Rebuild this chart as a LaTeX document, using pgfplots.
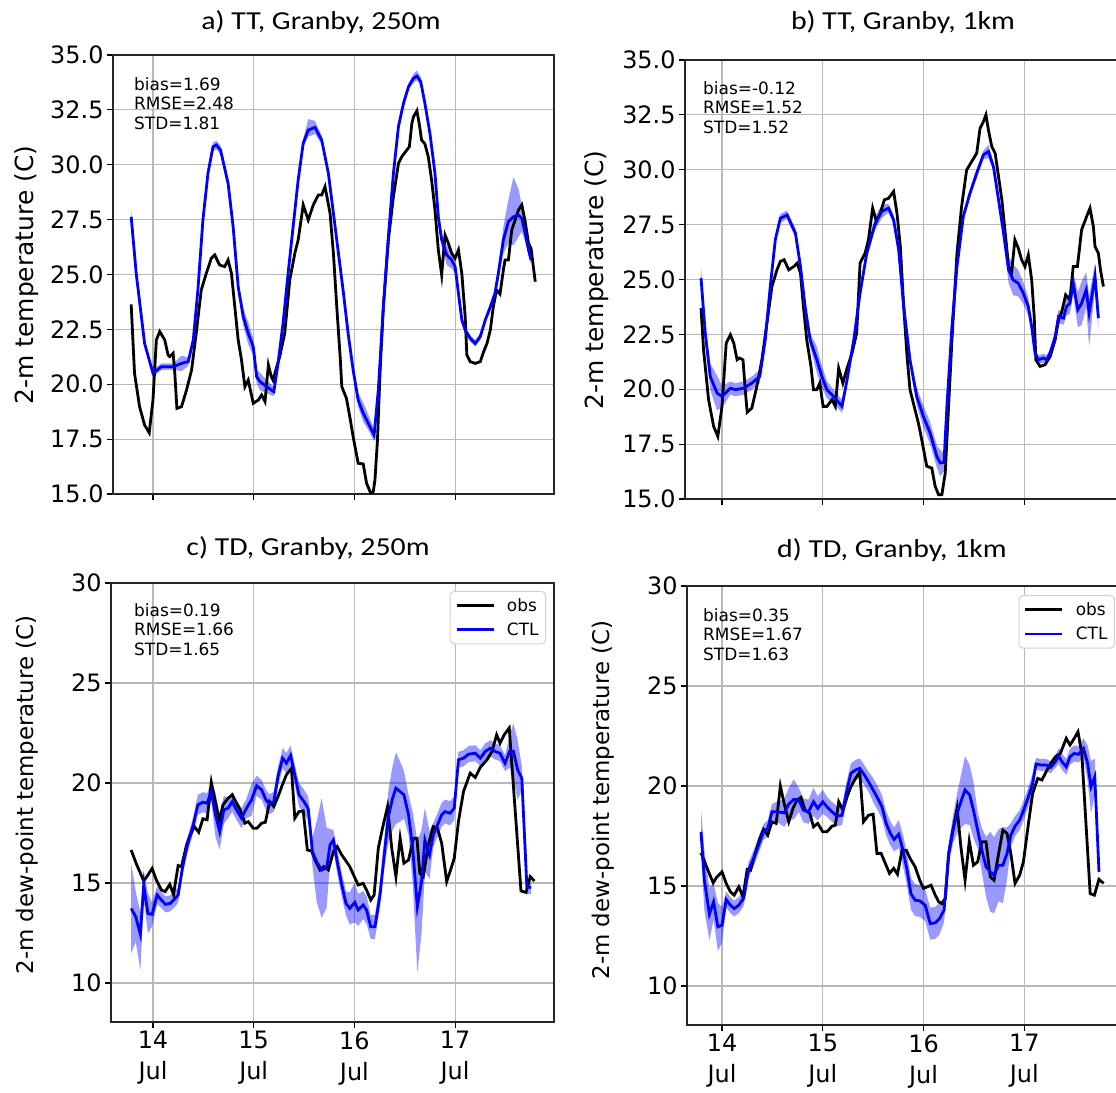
\documentclass[border=0pt]{standalone}
\usepackage{pgfplots}
\pgfplotsset{compat=1.18}
\usepackage{pgfplotstable}
\usepgfplotslibrary{fillbetween}
\usepackage{fontspec}
\setmainfont{DejaVu Sans}
\newfontfamily\carlito{Carlito}

% x = hours since 14 Jul 00 UTC
\pgfplotstableread{
h y
-5.2 23.64
-4.4 20.50
-3.2 18.98
-2.0 18.14
-0.9 17.79
0.0 19.28
0.8 22.02
1.6 22.40
2.8 22.02
3.6 21.33
4.0 21.26
4.8 21.41
5.2 20.50
5.7 18.90
6.8 18.98
8.0 19.74
9.2 20.65
10.3 22.32
11.5 24.29
12.7 25.05
13.9 25.74
14.7 25.89
15.9 25.43
17.1 25.36
17.9 25.66
18.7 25.05
19.5 23.53
20.3 22.02
21.1 21.10
21.9 19.89
22.7 20.19
23.9 19.13
25.1 19.28
25.9 19.51
26.7 19.21
27.5 20.88
28.2 20.35
28.6 20.19
30.2 21.26
31.4 22.32
32.6 24.75
33.8 25.96
34.6 26.57
35.4 27.63
35.8 28.17
37.0 27.48
38.2 28.17
39.4 28.62
40.2 28.62
41.0 29.00
42.2 27.79
43.0 25.96
43.8 23.53
44.6 21.26
45.0 19.89
46.1 19.36
46.9 18.52
47.7 17.61
48.9 16.40
50.1 16.37
50.9 15.49
51.9 15.03
52.5 15.11
52.9 15.64
53.5 17.46
54.1 20.50
54.9 23.53
56.1 26.57
57.3 28.55
58.5 30.06
59.3 30.37
60.5 30.67
61.1 30.82
61.7 31.89
62.1 32.19
62.9 32.46
63.5 31.81
64.0 31.13
64.8 30.95
65.6 30.37
66.4 29.31
67.2 27.94
68.0 26.12
68.8 24.98
69.6 26.80
70.4 26.42
71.2 25.96
72.0 25.74
72.8 26.12
73.6 25.05
74.4 23.08
74.8 21.33
75.6 21.03
76.8 20.95
78.0 21.03
78.8 21.48
79.6 21.86
80.4 22.47
81.1 23.53
81.9 24.29
82.7 24.11
83.5 25.20
83.9 25.66
84.7 25.66
85.5 27.03
86.3 27.48
87.1 27.94
87.9 28.17
88.7 27.41
89.5 26.42
90.1 26.19
91.1 24.67
}\obsa

\pgfplotstableread{
h m su sd
-5.2 27.63 0.3 0.3
-4.0 25.05 0.15 0.15
-2.0 21.86 0.15 0.15
0.0 20.50 0.15 0.15
2.0 20.80 0.15 0.15
4.8 20.80 0.15 0.15
6.8 20.95 0.35 0.35
8.4 21.03 0.2 0.2
9.6 22.02 0.15 0.15
10.7 24.29 0.15 0.15
11.9 27.48 0.15 0.15
13.1 29.61 0.15 0.15
14.3 30.82 0.2 0.2
15.1 30.90 0.2 0.2
16.1 30.67 0.2 0.2
17.9 29.15 0.15 0.15
19.1 27.18 0.15 0.15
20.3 24.45 0.2 0.2
21.5 23.08 0.4 0.4
22.7 22.32 0.5 0.5
23.9 21.71 0.4 0.4
24.7 20.35 0.3 0.3
25.5 20.12 0.4 0.4
27.1 19.89 0.3 0.3
28.8 19.66 0.2 0.2
29.8 20.95 0.2 0.2
31.0 22.78 0.2 0.2
32.2 25.05 0.3 0.3
33.4 27.18 0.2 0.2
34.6 29.31 0.2 0.2
35.8 30.98 0.2 0.2
37.0 31.58 0.5 0.3
38.6 31.70 0.3 0.3
40.2 31.13 0.2 0.2
41.8 29.61 0.15 0.15
43.0 27.79 0.15 0.15
44.2 25.96 0.15 0.15
45.4 24.14 0.15 0.15
46.5 22.32 0.15 0.15
47.7 20.65 0.15 0.15
48.9 19.28 0.3 0.3
50.1 18.68 0.5 0.4
51.3 18.22 0.4 0.3
52.7 17.69 0.3 0.3
53.7 19.74 0.15 0.15
54.9 23.53 0.15 0.15
56.1 26.72 0.15 0.15
57.3 29.61 0.15 0.15
58.5 31.74 0.15 0.15
59.7 32.80 0.15 0.15
60.9 33.56 0.15 0.15
62.1 33.94 0.2 0.2
62.9 34.04 0.25 0.2
63.8 33.79 0.2 0.2
64.8 32.80 0.15 0.15
66.0 31.43 0.15 0.15
67.2 29.61 0.15 0.15
68.0 27.63 0.2 0.2
68.8 26.57 0.3 0.3
70.0 25.89 0.45 0.45
71.2 25.66 0.4 0.4
72.0 25.36 0.3 0.3
72.8 24.14 0.2 0.2
73.6 22.93 0.15 0.15
74.4 22.47 0.15 0.15
75.6 22.09 0.15 0.15
76.8 21.86 0.15 0.15
78.0 22.17 0.15 0.15
79.2 22.93 0.15 0.15
80.4 23.53 0.15 0.15
81.5 24.14 0.15 0.15
82.3 25.05 0.3 0.3
83.5 26.57 0.6 0.6
84.7 27.41 1.0 1.0
85.9 27.63 1.8 1.3
87.1 27.71 1.2 1.0
87.9 27.56 0.6 0.6
88.7 26.88 0.4 0.4
89.5 26.12 0.2 0.2
90.1 25.66 0.2 0.2
}\ctla

\pgfplotstableread{
h y
-5.0 23.70
-4.4 21.80
-3.2 19.52
-2.0 18.31
-1.0 17.85
0.0 19.22
1.0 22.10
2.0 22.48
2.8 22.10
3.6 21.34
4.2 21.42
5.0 21.34
5.6 19.83
6.0 18.95
7.1 19.14
8.3 20.13
9.5 21.34
10.7 23.01
11.9 24.68
13.1 25.44
13.9 25.82
14.8 25.90
15.9 25.44
17.1 25.59
17.9 25.74
18.7 25.29
19.4 23.77
20.2 22.25
21.2 21.04
21.8 19.98
22.6 19.98
23.3 20.28
24.1 19.22
25.0 19.22
26.2 19.52
27.0 19.22
27.8 20.96
28.8 20.28
29.8 20.96
31.0 21.65
32.1 22.56
32.9 25.74
34.1 26.20
34.9 26.81
35.9 28.25
36.8 27.64
37.7 28.02
38.7 28.63
39.7 28.70
40.9 29.01
41.7 28.02
42.5 26.50
43.3 23.77
44.1 21.49
44.8 19.98
46.0 19.07
46.8 18.46
47.6 17.70
48.8 16.49
50.0 16.41
50.8 15.58
51.6 15.20
52.4 15.20
53.2 16.18
54.0 19.22
54.8 22.25
56.0 26.20
57.1 28.32
58.3 29.99
59.5 30.37
60.7 30.75
61.5 31.89
62.3 32.19
62.9 32.50
63.5 31.81
64.3 31.05
65.1 30.75
65.9 29.69
66.7 28.63
67.5 27.11
68.3 25.59
69.0 25.29
69.8 26.81
70.6 26.43
71.4 25.90
72.2 25.59
73.0 26.12
73.8 24.98
74.4 23.32
74.8 21.34
75.8 21.04
77.0 21.12
78.2 21.49
79.4 22.25
80.2 23.16
81.0 23.54
81.9 24.30
82.9 24.07
83.7 25.59
84.7 25.59
85.7 27.26
86.9 27.87
87.7 28.25
88.5 27.41
88.9 26.50
89.7 26.20
90.2 25.44
90.9 24.68
}\obsb

\pgfplotstableread{
h m su sd
-5.0 25.06 0.5 0.5
-4.0 22.56 0.4 0.4
-2.8 20.58 0.6 0.6
-1.2 19.83 0.8 0.8
0.0 19.67 0.5 0.5
2.0 20.05 0.3 0.3
3.2 19.98 0.3 0.3
5.2 20.05 0.3 0.3
7.1 20.28 0.3 0.3
9.0 20.58 0.3 0.3
10.3 22.25 0.2 0.2
11.5 24.68 0.2 0.2
12.7 26.81 0.2 0.2
13.9 27.79 0.2 0.2
15.5 27.94 0.2 0.2
17.5 27.11 0.2 0.2
18.7 25.59 0.2 0.2
19.8 23.77 0.2 0.2
21.0 22.25 0.3 0.3
22.6 21.34 0.6 0.6
23.8 20.58 0.5 0.5
25.0 19.98 0.4 0.4
26.6 19.67 0.3 0.3
28.6 19.22 0.3 0.3
29.8 20.43 0.2 0.2
31.4 22.25 0.2 0.2
32.9 24.38 0.2 0.2
34.5 26.20 0.2 0.2
36.5 27.56 0.3 0.3
38.1 28.10 0.3 0.3
39.7 28.25 0.2 0.2
40.9 27.72 0.2 0.2
42.1 26.35 0.2 0.2
43.3 23.77 0.2 0.2
44.8 21.34 0.2 0.2
46.4 19.67 0.4 0.4
48.0 18.76 0.5 0.5
49.6 18.00 0.5 0.5
51.2 16.94 0.5 0.5
52.0 16.64 0.6 0.6
52.9 16.67 0.4 0.4
53.6 19.22 0.2 0.2
54.8 22.86 0.2 0.2
56.0 25.59 0.2 0.2
57.5 27.87 0.2 0.2
59.1 28.93 0.2 0.2
60.7 29.84 0.2 0.2
62.3 30.68 0.2 0.2
63.5 30.83 0.3 0.3
64.7 30.14 0.2 0.2
65.9 28.63 0.2 0.2
67.1 27.11 0.3 0.3
68.3 25.44 0.6 0.6
69.4 24.98 0.7 0.7
70.6 24.83 0.6 0.6
71.8 24.38 0.5 0.5
73.0 23.77 0.4 0.4
73.8 22.86 0.3 0.3
74.6 21.65 0.2 0.2
75.4 21.34 0.2 0.2
76.6 21.42 0.2 0.2
77.4 21.34 0.2 0.2
78.2 21.65 0.2 0.2
79.4 22.40 0.2 0.2
80.2 23.32 0.3 0.3
81.4 23.24 0.3 0.3
82.1 23.77 0.4 0.4
82.9 23.92 0.5 0.5
83.7 24.83 0.5 0.5
84.8 23.62 0.8 0.8
85.7 23.92 1.0 1.0
86.8 24.53 0.8 0.8
87.5 23.47 0.8 1.5
88.9 25.14 0.6 0.6
89.7 23.24 0.5 0.5
}\ctlb

\pgfplotstableread{
h y
-5.2 16.65
-4.0 15.98
-2.2 15.10
-1.2 15.40
-0.2 15.73
0.8 15.15
2.0 14.65
2.9 14.57
4.0 14.93
4.9 14.43
6.0 15.87
6.8 15.82
8.0 16.90
8.9 17.40
9.9 17.82
10.9 17.54
11.9 18.21
12.9 18.16
13.9 20.04
14.7 19.24
15.8 18.11
16.7 18.91
17.9 19.24
18.9 19.41
19.9 18.99
20.8 18.66
21.9 17.99
22.7 18.07
23.9 17.74
24.8 17.74
25.9 17.99
26.8 18.04
27.8 19.07
28.8 18.82
29.8 19.32
30.9 19.94
31.8 20.41
33.0 20.74
33.8 18.24
34.8 18.57
35.8 18.61
36.8 16.65
37.8 16.60
38.8 16.07
39.8 15.65
40.7 15.82
41.8 15.65
43.0 16.57
43.9 16.82
45.0 16.40
46.0 16.10
46.9 15.82
48.9 14.90
50.1 14.98
50.9 14.65
51.9 14.15
52.7 14.40
53.7 16.74
54.7 17.74
55.9 18.82
56.9 16.74
57.9 15.32
58.9 17.24
59.8 15.99
60.9 16.15
62.1 17.24
62.9 17.24
63.6 15.48
64.4 15.32
65.6 16.90
66.8 17.82
67.8 17.74
68.8 16.99
70.0 15.07
70.8 15.57
71.8 16.24
72.8 18.07
74.0 19.57
75.6 20.49
76.8 20.28
78.0 20.78
79.6 21.16
80.8 21.58
81.9 22.41
82.7 21.99
83.7 22.41
84.9 22.75
87.7 14.60
88.9 14.53
89.9 15.32
90.9 15.10
}\obsc

\pgfplotstableread{
h m su sd
-5.2 13.73 2.25 2.25
-4.1 13.31 1.25 1.25
-3.0 12.43 1.13 1.79
-2.2 14.90 0.75 0.75
-1.2 13.48 1.0 1.0
-0.2 13.43 0.6 0.6
1.0 14.40 0.45 0.45
2.0 14.15 0.4 0.4
3.0 13.93 0.4 0.4
4.1 13.98 0.4 0.4
5.2 14.20 0.4 0.4
6.0 14.40 0.4 0.4
7.0 15.73 0.4 0.4
8.1 16.82 0.4 0.4
9.6 17.90 0.4 0.4
10.7 18.91 0.5 0.5
11.9 19.04 0.5 0.5
12.9 18.99 0.5 0.5
13.9 19.57 0.5 0.5
14.9 18.41 1.1 1.1
15.9 17.57 0.9 0.9
16.9 18.66 0.7 0.7
17.9 18.74 0.5 0.5
18.9 19.07 0.5 0.5
19.9 18.66 0.5 0.5
21.1 18.24 0.5 0.5
22.3 18.74 0.5 0.5
23.5 19.16 0.8 0.8
24.7 19.86 0.5 0.5
25.9 19.66 0.5 0.5
26.9 19.16 0.5 0.5
27.8 18.94 0.5 0.5
28.8 19.07 0.5 0.5
29.8 20.33 0.5 0.5
30.9 21.24 0.5 0.5
31.8 20.99 0.5 0.5
32.8 21.38 0.5 0.5
33.8 20.41 0.5 0.5
34.8 19.41 0.6 0.6
36.0 19.07 0.6 0.6
37.0 18.71 0.6 0.6
38.0 16.57 0.7 0.7
39.0 16.07 2.0 2.0
40.2 15.65 3.6 2.4
41.4 15.77 2.0 2.0
42.2 16.90 0.8 0.8
43.0 17.15 0.5 0.5
43.9 16.07 0.6 0.6
45.0 14.90 0.6 0.6
46.0 13.98 0.6 0.6
46.9 13.73 0.8 0.8
48.1 14.03 1.0 1.0
48.9 13.65 0.8 0.8
50.1 13.90 0.7 0.7
50.9 13.65 0.7 0.7
51.9 12.81 0.6 0.6
52.9 12.81 0.6 0.6
54.1 14.40 0.6 0.6
55.1 16.40 0.7 0.7
56.1 18.32 1.3 1.3
57.1 19.24 1.6 1.6
57.9 19.74 1.8 1.8
58.9 19.57 1.5 1.5
59.8 19.41 1.2 1.2
60.9 18.41 1.0 1.0
61.9 16.74 1.8 1.8
63.0 13.81 3.3 3.3
64.0 15.07 2.6 2.6
64.8 17.15 1.6 1.6
65.9 16.40 1.2 1.2
66.8 17.40 0.6 0.6
67.8 17.90 0.6 0.6
68.8 18.41 0.6 0.6
69.6 18.57 0.6 0.6
70.8 18.49 0.6 0.6
71.8 18.74 0.6 0.6
72.8 21.16 0.4 0.4
74.0 21.24 0.4 0.4
75.2 21.44 0.4 0.4
76.8 21.49 0.4 0.4
78.0 21.24 0.4 0.4
79.2 21.58 0.4 0.4
80.4 21.74 0.4 0.4
81.5 21.58 0.4 0.4
82.7 21.49 0.4 0.4
83.9 20.99 0.4 0.4
85.0 21.58 0.8 0.8
85.9 21.58 1.4 1.4
86.9 20.66 1.5 1.5
87.9 20.24 0.6 0.6
89.1 14.82 0.4 0.4
90.1 14.77 0.3 0.3
}\ctlc

\pgfplotstableread{
h y
-5.0 16.66
-4.0 16.13
-3.2 15.71
-2.1 15.16
-1.2 15.46
0.0 15.71
1.0 15.13
2.0 14.71
2.9 14.54
4.0 14.96
5.0 14.46
6.0 15.83
6.8 15.79
7.9 16.63
9.0 17.38
9.9 17.83
10.9 17.54
11.9 18.21
12.9 18.13
13.9 20.00
14.8 19.13
15.9 18.21
16.9 18.88
17.9 19.30
18.8 19.43
19.8 18.79
20.9 18.63
21.8 17.96
22.8 18.13
24.0 17.71
25.0 17.71
26.2 17.99
27.0 18.04
27.8 19.21
28.8 18.79
29.8 19.46
30.7 19.96
31.8 20.38
32.8 20.71
33.7 18.21
34.9 18.54
36.0 18.59
36.9 16.63
37.9 16.63
38.9 16.13
39.9 15.63
40.9 15.88
41.8 15.59
42.9 16.79
43.9 16.79
44.8 16.38
46.0 15.96
47.1 15.29
48.0 14.88
49.8 15.04
50.8 14.54
51.6 14.21
52.4 14.12
53.2 14.37
54.0 16.63
55.0 17.79
56.0 18.88
56.9 16.96
57.9 15.29
58.9 17.24
59.9 16.04
60.9 16.21
61.9 17.21
62.9 17.21
63.9 15.46
64.8 15.29
65.9 16.63
66.9 17.79
67.9 17.63
68.8 16.63
69.8 15.13
70.9 15.54
71.8 16.21
73.0 18.13
74.0 19.63
75.2 20.38
76.2 20.30
77.2 20.71
78.3 21.13
79.4 21.46
80.6 21.63
82.0 22.38
82.9 22.05
83.9 22.38
84.8 22.71
85.7 21.63
87.7 14.62
88.7 14.54
89.8 15.33
90.9 15.13
}\obsd

\pgfplotstableread{
h m su sd
-5.0 17.71 1.1 1.1
-4.2 15.29 1.5 1.5
-3.0 13.59 1.3 1.3
-2.0 14.21 0.9 0.9
-1.0 12.96 1.2 1.2
0.0 13.04 0.9 0.9
1.0 14.32 0.4 0.4
2.0 14.04 0.4 0.4
2.9 13.87 0.4 0.4
4.0 14.04 0.4 0.4
5.2 14.42 0.4 0.4
6.3 15.79 0.4 0.4
7.7 16.46 0.4 0.4
9.0 17.21 0.4 0.4
9.9 17.71 0.4 0.4
10.9 17.88 0.4 0.4
11.9 18.71 0.4 0.4
13.1 18.71 0.5 0.5
14.8 18.66 0.7 0.7
15.9 19.10 0.8 0.8
17.1 19.33 1.0 1.0
18.3 19.30 0.6 0.6
19.4 18.79 0.6 0.6
20.6 18.71 0.6 0.6
21.8 19.21 0.7 0.7
22.8 18.88 0.6 0.6
24.0 19.21 0.6 0.6
25.0 18.96 0.5 0.5
26.2 18.71 0.5 0.5
27.4 18.49 0.5 0.5
28.6 18.54 0.5 0.5
29.6 19.63 0.5 0.5
30.7 20.63 0.5 0.5
31.8 20.80 0.5 0.5
32.8 20.88 0.5 0.5
33.9 20.55 0.5 0.5
34.9 20.21 0.5 0.5
36.0 19.80 0.6 0.6
37.1 19.38 0.6 0.6
38.1 18.96 0.6 0.6
39.1 18.13 0.6 0.6
40.1 17.63 0.6 0.6
41.0 17.33 0.6 0.6
42.1 17.59 0.7 0.7
43.1 16.79 0.8 0.8
44.1 15.79 0.8 0.8
45.0 14.62 0.8 0.8
46.0 14.29 0.8 0.8
47.1 14.26 0.8 0.8
48.4 14.04 0.8 0.8
49.6 13.12 0.8 0.8
50.8 13.16 0.8 0.8
51.8 13.37 0.8 0.8
52.9 13.79 0.6 0.6
54.0 16.63 0.5 0.5
55.0 17.79 0.7 0.7
56.0 18.63 1.0 1.0
56.9 19.21 1.3 1.3
57.9 19.80 1.7 1.7
59.0 19.55 1.5 1.5
59.9 18.79 1.4 1.4
60.9 17.79 0.9 0.9
61.9 16.79 1.1 1.1
62.9 15.96 1.5 1.5
63.9 15.71 2.0 2.0
64.8 15.54 1.9 1.9
65.9 16.04 1.8 1.8
66.9 16.04 1.9 1.9
67.9 16.63 1.3 1.3
68.8 17.54 0.6 0.6
69.8 17.99 0.5 0.5
70.9 18.29 0.5 0.5
71.8 18.76 0.5 0.5
73.0 19.46 0.5 0.5
74.0 20.13 0.5 0.5
74.8 21.10 0.3 0.3
76.0 21.05 0.3 0.3
77.2 21.05 0.3 0.3
78.3 20.93 0.3 0.3
79.4 21.21 0.3 0.3
80.2 21.50 0.4 0.4
81.0 21.21 0.4 0.4
82.0 20.96 0.4 0.4
82.9 21.46 0.4 0.4
83.9 21.63 0.4 0.4
84.9 21.58 0.4 0.4
86.1 21.88 0.5 0.5
87.1 21.13 0.9 0.9
87.9 19.96 1.3 1.3
88.8 20.46 0.9 0.9
89.8 15.71 0.3 0.3
}\ctld

\pgfplotsset{
  panel/.style={
    scale only axis,
    axis line style={line width=1.5bp, black!85},
    grid=major,
    major grid style={line width=1.2bp, black!28},
    tick align=outside,
    tick pos=left,
    major tick length=6bp,
    every tick/.style={line width=1.2bp, black},
    xtick={0,24,48,72},
    /pgf/number format/assume math mode=true,
    tick label style={font=\fontsize{24}{31}\selectfont},
    height=439bp,
  },
  upper/.style={panel, ymin=15, ymax=35,
    ytick={15,17.5,20,22.5,25,27.5,30,32.5,35},
    yticklabel style={/pgf/number format/fixed, /pgf/number format/fixed zerofill, /pgf/number format/precision=1},
    xticklabels={}},
  lower/.style={panel, ymin=8.05, ymax=30,
    ytick={10,15,20,25,30},
    xticklabels={{14\\Jul},{15\\Jul},{16\\Jul},{17\\Jul}},
    xticklabel style={align=center},
    legend cell align=left,
    legend image code/.code={\draw[##1] (0bp,0bp) -- (37bp,0bp);},
    legend style={font=\fontsize{17}{20}\selectfont, draw=black!18, line width=1bp,
      rounded corners=4bp, anchor=north east, inner xsep=5bp, inner ysep=5bp,
      row sep=6bp, fill=white,
      /tikz/every odd column/.append style={column sep=10bp}}},
  obsline/.style={black, line width=2.8bp},
  ctlline/.style={blue, line width=2.8bp},
  band/.style={fill=blue, fill opacity=0.4, draw=none, forget plot},
}
\tikzset{ttl/.style={font=\carlito\fontsize{26}{30}\selectfont, xscale=1.15}}

\newcommand\stat[3]{%
  \node[anchor=base west, font=\fontsize{17}{20}\selectfont, inner sep=0pt] at (#1bp,#2bp) {#3};}

\begin{document}
\begin{tikzpicture}

% ---------- a ----------
\begin{axis}[upper, at={(113bp,599bp)}, anchor=south west, width=441bp, xmin=-9.53, xmax=95.57]
\addplot[draw=none, name path=ahi, forget plot] table[x=h, y expr=\thisrow{m}+\thisrow{su}] {\ctla};
\addplot[draw=none, name path=alo, forget plot] table[x=h, y expr=\thisrow{m}-\thisrow{sd}] {\ctla};
\addplot[band] fill between[of=ahi and alo];
\addplot[obsline] table[x=h, y=y] {\obsa};
\addplot[ctlline] table[x=h, y=m] {\ctla};
\end{axis}

% ---------- b ----------
\begin{axis}[upper, at={(685bp,594bp)}, anchor=south west, width=438bp, xmin=-8.82, xmax=95.57]
\addplot[draw=none, name path=bhi, forget plot] table[x=h, y expr=\thisrow{m}+\thisrow{su}] {\ctlb};
\addplot[draw=none, name path=blo, forget plot] table[x=h, y expr=\thisrow{m}-\thisrow{sd}] {\ctlb};
\addplot[band] fill between[of=bhi and blo];
\addplot[obsline] table[x=h, y=y] {\obsb};
\addplot[ctlline] table[x=h, y=m] {\ctlb};
\end{axis}

% ---------- c ----------
\begin{axis}[lower, at={(111bp,71bp)}, anchor=south west, width=443bp, xmin=-10.0, xmax=95.57,
  legend style={at={(0.982,0.982)}}]
\addplot[draw=none, name path=chi, forget plot] table[x=h, y expr=\thisrow{m}+\thisrow{su}] {\ctlc};
\addplot[draw=none, name path=clo, forget plot] table[x=h, y expr=\thisrow{m}-\thisrow{sd}] {\ctlc};
\addplot[band] fill between[of=chi and clo];
\addplot[obsline] table[x=h, y=y] {\obsc};
\addlegendentry{obs}
\addplot[ctlline] table[x=h, y=m] {\ctlc};
\addlegendentry{CTL}
\end{axis}

% ---------- d ----------
\begin{axis}[lower, at={(687bp,68bp)}, anchor=south west, width=438bp, xmin=-8.34, xmax=96.0,
  legend style={at={(0.977,0.979)}}]
\addplot[draw=none, name path=dhi, forget plot] table[x=h, y expr=\thisrow{m}+\thisrow{su}] {\ctld};
\addplot[draw=none, name path=dlo, forget plot] table[x=h, y expr=\thisrow{m}-\thisrow{sd}] {\ctld};
\addplot[band] fill between[of=dhi and dlo];
\addplot[obsline] table[x=h, y=y] {\obsd};
\addlegendentry{obs}
\addplot[ctlline] table[x=h, y=m] {\ctld};
\addlegendentry{CTL}
\end{axis}

% titles
\node[ttl] at (321bp,1071bp) {a) TT, Granby, 250m};
\node[ttl] at (903bp,1071bp) {b) TT, Granby, 1km};
\node[ttl] at (308bp,545bp) {c) TD, Granby, 250m};
\node[ttl] at (892bp,543bp) {d) TD, Granby, 1km};

% y labels
\node[rotate=90, font=\fontsize{25}{30}\selectfont] at (27bp,818bp) {2-m temperature (C)};
\node[rotate=90, font=\fontsize{25}{30}\selectfont] at (597bp,813bp) {2-m temperature (C)};
\node[rotate=90, font=\fontsize{23}{28}\selectfont] at (27bp,298bp) {2-m dew-point temperature (C)};
\node[rotate=90, font=\fontsize{23}{28}\selectfont] at (603bp,293bp) {2-m dew-point temperature (C)};

% statistics
\stat{134}{1002}{bias=1.69}
\stat{134}{983}{RMSE=2.48}
\stat{134}{963}{STD=1.81}
\stat{703}{998}{bias=-0.12}
\stat{703}{979}{RMSE=1.52}
\stat{703}{959}{STD=1.52}
\stat{134}{476}{bias=0.19}
\stat{134}{457}{RMSE=1.66}
\stat{134}{437}{STD=1.65}
\stat{703}{471}{bias=0.35}
\stat{703}{452}{RMSE=1.67}
\stat{703}{432}{STD=1.63}

\pgfresetboundingbox
\path[use as bounding box] (0,0) rectangle (1116bp,1093bp);
\end{tikzpicture}
\end{document}
